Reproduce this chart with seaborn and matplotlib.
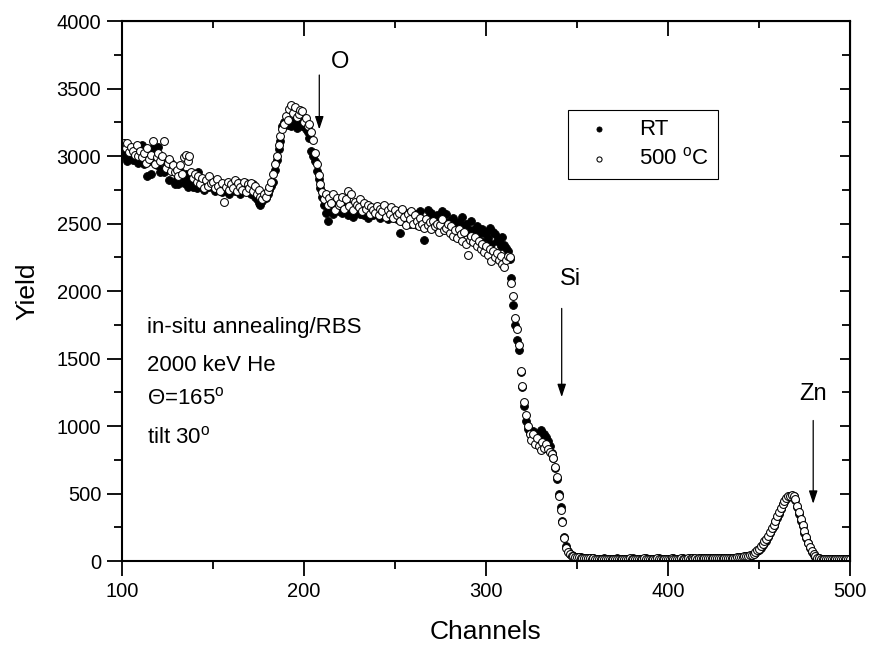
import numpy as np
import pandas as pd
import matplotlib
matplotlib.use("Agg")
import matplotlib.pyplot as plt
import seaborn as sns

# RBS spectra, one value per channel (100..500)
channels = np.arange(100, 501)

# RT (filled dots)
rt_a = [3020, 3050, 2990, 2960, 3000, 3040, 2970, 2980, 3010, 2950,
        2970, 3080, 2940, 2990, 2850, 2960, 2870, 3060, 2990, 2930,
        3070, 2880, 2900, 2880, 2940, 2910, 2820, 2950, 2890, 2790,
        2830, 2790, 2890, 2850, 2800, 2870, 2770, 2840, 2810, 2770,
        2790, 2760, 2880, 2800, 2830, 2750, 2790, 2820, 2770, 2800,
        2780, 2740, 2810, 2760, 2790, 2730, 2770, 2750, 2800, 2720,
        2760, 2790, 2740, 2810, 2750, 2720, 2780, 2760, 2800, 2740]
rt_b = [2760, 2720, 2790, 2700, 2680, 2650, 2640, 2670, 2700, 2690,
        2720, 2750, 2780, 2810, 2900, 2970, 3050, 3110, 3220, 3250,
        3240, 3230, 3260, 3220, 3240, 3270, 3210, 3230, 3250, 3220,
        3230, 3200, 3180, 3130, 3040, 3000, 2960, 2890, 2830, 2760,
        2700, 2640, 2580, 2520, 2600, 2640, 2570, 2620, 2660, 2590]
rt_c = [2630, 2580, 2610, 2660, 2560, 2600, 2620, 2550, 2640, 2590,
        2610, 2570, 2630, 2560, 2600, 2540, 2620, 2580, 2560, 2600,
        2570, 2610, 2540, 2590, 2560, 2620, 2530, 2580, 2550, 2600,
        2560, 2530, 2590, 2430, 2570, 2510, 2550, 2580, 2500, 2560,
        2530, 2570, 2490, 2550, 2590, 2520, 2380, 2500, 2600, 2560,
        2580, 2520, 2490, 2560, 2550, 2470, 2590, 2510, 2570, 2480,
        2520, 2460, 2540, 2490, 2430, 2510, 2470, 2550, 2440, 2500,
        2460, 2420, 2520, 2450, 2400, 2480, 2430, 2370, 2460, 2430,
        2440, 2390, 2470, 2350, 2440, 2420, 2370, 2380, 2330, 2400,
        2340, 2320, 2300]
rt_d = [2240, 2100, 1900, 1750, 1640, 1560, 1400, 1290, 1150, 1040, 980, 950,
        930, 960, 940, 920, 950, 970, 950, 940, 920, 890, 850, 800, 760, 690, 610,
        500, 400, 300, 180, 110, 75, 55, 42, 36, 32]
rt_e = [32, 29, 27, 25, 23, 22, 21, 20, 19, 19,
        18, 17, 18, 16, 17, 19, 15, 17, 18, 16,
        17, 15, 19, 17, 16, 18, 17, 15, 16, 18,
        17, 19, 16, 17, 15, 18, 17, 16, 19, 17,
        18, 16, 17, 15, 17, 19, 16, 18, 17, 16,
        17, 18, 16, 19, 17, 15, 18, 17, 19, 16,
        18, 17, 20, 16, 19, 18, 17, 20, 19, 18,
        21, 19, 20, 18, 22, 19, 21, 20, 19, 22,
        21, 20, 23, 21, 22, 24, 23, 25, 24, 26]
rt_f = [28, 30, 32, 34, 37, 40, 44, 50, 60, 72,
        85, 100, 118, 135, 150, 175, 205, 240, 260, 290,
        320, 350, 385, 420, 440, 460, 475, 480, 483, 478,
        450, 400, 350, 300, 260, 210, 170, 130, 100, 70,
        48, 32, 24, 20, 18, 17, 16, 16, 15, 15,
        15, 14, 14, 15, 14, 14, 14, 13, 14, 14, 14]

# 500 C (open circles)
hot_a = [3090, 3100, 3060, 3100, 3030, 3070, 3040, 3010, 3080, 3000,
         3040, 2990, 3020, 2950, 3060, 2980, 3010, 3110, 2940, 2990,
         3020, 2960, 3000, 3110, 2910, 2950, 2980, 2890, 2930, 2880,
         2900, 2850, 2930, 2870, 2990, 3010, 2960, 3000, 2880, 2840,
         2870, 2810, 2850, 2790, 2840, 2760, 2820, 2780, 2850, 2800,
         2810, 2760, 2830, 2780, 2740, 2800, 2660, 2770, 2810, 2750,
         2790, 2760, 2820, 2740, 2800, 2770, 2750, 2810, 2730, 2790]
hot_b = [2760, 2800, 2740, 2780, 2720, 2750, 2700, 2680, 2720, 2700,
         2740, 2770, 2810, 2870, 2940, 3000, 3080, 3150, 3200, 3240,
         3300, 3270, 3350, 3380, 3320, 3360, 3290, 3310, 3340, 3330,
         3250, 3280, 3220, 3240, 3180, 3120, 3020, 2940, 2860, 2790,
         2730, 2680, 2720, 2640, 2690, 2650, 2720, 2600, 2690, 2640]
hot_c = [2650, 2700, 2610, 2680, 2740, 2630, 2720, 2600, 2660, 2640,
         2620, 2680, 2590, 2650, 2610, 2640, 2570, 2620, 2600, 2580,
         2630, 2560, 2610, 2590, 2640, 2550, 2600, 2570, 2620, 2540,
         2600, 2560, 2580, 2520, 2610, 2550, 2490, 2570, 2530, 2590,
         2500, 2560, 2520, 2480, 2540, 2500, 2470, 2530, 2490, 2510,
         2460, 2520, 2480, 2500, 2440, 2490, 2530, 2450, 2470, 2500,
         2430, 2480, 2410, 2450, 2390, 2460, 2420, 2370, 2440, 2350,
         2270, 2380, 2410, 2360, 2400, 2330, 2370, 2310, 2350, 2290,
         2330, 2270, 2310, 2220, 2300, 2250, 2280, 2230, 2260, 2200,
         2180, 2230, 2260]
hot_d = [2250, 2060, 1960, 1800, 1720, 1600, 1410, 1300, 1180, 1080, 1000, 940,
         900, 940, 870, 910, 850, 820, 880, 840, 870, 830, 810, 790, 760, 700, 620,
         480, 380, 290, 170, 100, 65, 50, 40, 34, 30]
hot_e = [31, 28, 26, 24, 23, 21, 20, 20, 18, 19,
         17, 18, 16, 17, 18, 16, 18, 17, 16, 18,
         16, 17, 18, 16, 17, 15, 18, 16, 17, 19,
         16, 18, 17, 15, 18, 16, 17, 19, 16, 18,
         17, 15, 18, 16, 19, 17, 16, 18, 15, 17,
         18, 16, 19, 17, 16, 18, 17, 19, 16, 18,
         17, 19, 18, 20, 17, 19, 18, 21, 19, 20,
         19, 21, 20, 22, 19, 21, 23, 20, 22, 21,
         23, 22, 24, 22, 25, 24, 26, 25, 27, 27]
hot_f = [29, 31, 34, 36, 39, 43, 48, 55, 65, 78,
         90, 108, 125, 145, 160, 185, 215, 245, 270, 300,
         330, 360, 390, 425, 445, 465, 478, 485, 488, 482,
         460, 410, 360, 310, 270, 220, 180, 135, 105, 75,
         50, 34, 25, 20, 18, 17, 16, 15, 15, 15,
         14, 15, 14, 14, 13, 14, 14, 14, 13, 14, 14]

rt = np.concatenate([rt_a, rt_b, rt_c, rt_d, rt_e, rt_f])
hot = np.concatenate([hot_a, hot_b, hot_c, hot_d, hot_e, hot_f])

df = pd.DataFrame({"channel": channels, "RT": rt, "hot": hot})

sns.set_style("ticks")
plt.rcParams["font.family"] = ["Liberation Sans", "DejaVu Sans"]
plt.rcParams["mathtext.fontset"] = "custom"
plt.rcParams["mathtext.rm"] = "Liberation Sans"
plt.rcParams["mathtext.it"] = "Liberation Sans:italic"
for k in ["text.color", "axes.labelcolor", "xtick.color", "ytick.color", "axes.edgecolor"]:
    plt.rcParams[k] = "black"

fig = plt.figure(figsize=(8.74, 6.47), dpi=100)
ax = fig.add_axes([0.1396, 0.1329, 0.8329, 0.8346])

sns.scatterplot(data=df, x="channel", y="RT", ax=ax, color="black", edgecolor="black",
                s=32, linewidth=0.6, marker="o", label="RT")
sns.scatterplot(data=df, x="channel", y="hot", ax=ax, color="white", edgecolor="black",
                s=32, linewidth=0.75, marker="o", label="500 $^{\\mathrm{o}}$C")

ax.set_xlim(100, 500)
ax.set_ylim(0, 4000)
ax.set_xticks(np.arange(100, 501, 100))
ax.set_xticks(np.arange(100, 501, 50), minor=True)
ax.set_yticks(np.arange(0, 4001, 500))
ax.set_yticks(np.arange(0, 4001, 250), minor=True)
ax.tick_params(which="major", direction="out", length=11, width=1.3, labelsize=14.5, pad=4)
ax.tick_params(which="minor", direction="out", length=6, width=1.3)
for sp in ax.spines.values():
    sp.set_linewidth(1.5)

# inward ticks on top and right, no labels
top = ax.secondary_xaxis("top")
top.set_xticks(np.arange(100, 501, 100))
top.set_xticks(np.arange(100, 501, 50), minor=True)
top.tick_params(which="major", direction="in", length=11, width=1.3, labeltop=False)
top.tick_params(which="minor", direction="in", length=5, width=1.3)
right = ax.secondary_yaxis("right")
right.set_yticks(np.arange(0, 4001, 500))
right.set_yticks(np.arange(0, 4001, 250), minor=True)
right.tick_params(which="major", direction="in", length=7, width=1.3, labelright=False)
right.tick_params(which="minor", direction="in", length=6, width=1.3)

ax.set_xlabel("Channels", fontsize=19, labelpad=14)
ax.set_ylabel("Yield", fontsize=19, labelpad=12)

arrow = dict(arrowstyle="-|>,head_length=0.6,head_width=0.2", color="black",
             lw=0.9, mutation_scale=13, shrinkA=0, shrinkB=0)
ax.annotate("", xy=(208.4, 3197), xytext=(208.4, 3600), arrowprops=arrow)
ax.annotate("", xy=(341.6, 1214), xytext=(341.6, 1871), arrowprops=arrow)
ax.annotate("", xy=(479.8, 424), xytext=(479.8, 1041), arrowprops=arrow)
ax.text(220, 3700, "O", fontsize=17, ha="center", va="center")
ax.text(346.2, 2089, "Si", fontsize=17, ha="center", va="center")
ax.text(479.7, 1240, "Zn", fontsize=17, ha="center", va="center")

ax.text(113.7, 1732, "in-situ annealing/RBS", fontsize=16, va="center")
ax.text(113.7, 1450, "2000 keV He", fontsize=16, va="center")
ax.text(113.7, 1204, "\u0398=165$^{\\mathrm{o}}$", fontsize=16, va="center")
ax.text(113.7, 914, "tilt 30$^{\\mathrm{o}}$", fontsize=16, va="center")

leg = ax.legend(loc="upper left", bbox_to_anchor=(0.6126, 0.835), frameon=True,
                fancybox=False, edgecolor="black", framealpha=1, fontsize=16,
                markerscale=0.65, borderpad=0.4, labelspacing=0.35,
                handletextpad=0.8, handlelength=2.0, borderaxespad=0)
leg.get_frame().set_linewidth(0.8)

fig.savefig("out.png", dpi=100)
